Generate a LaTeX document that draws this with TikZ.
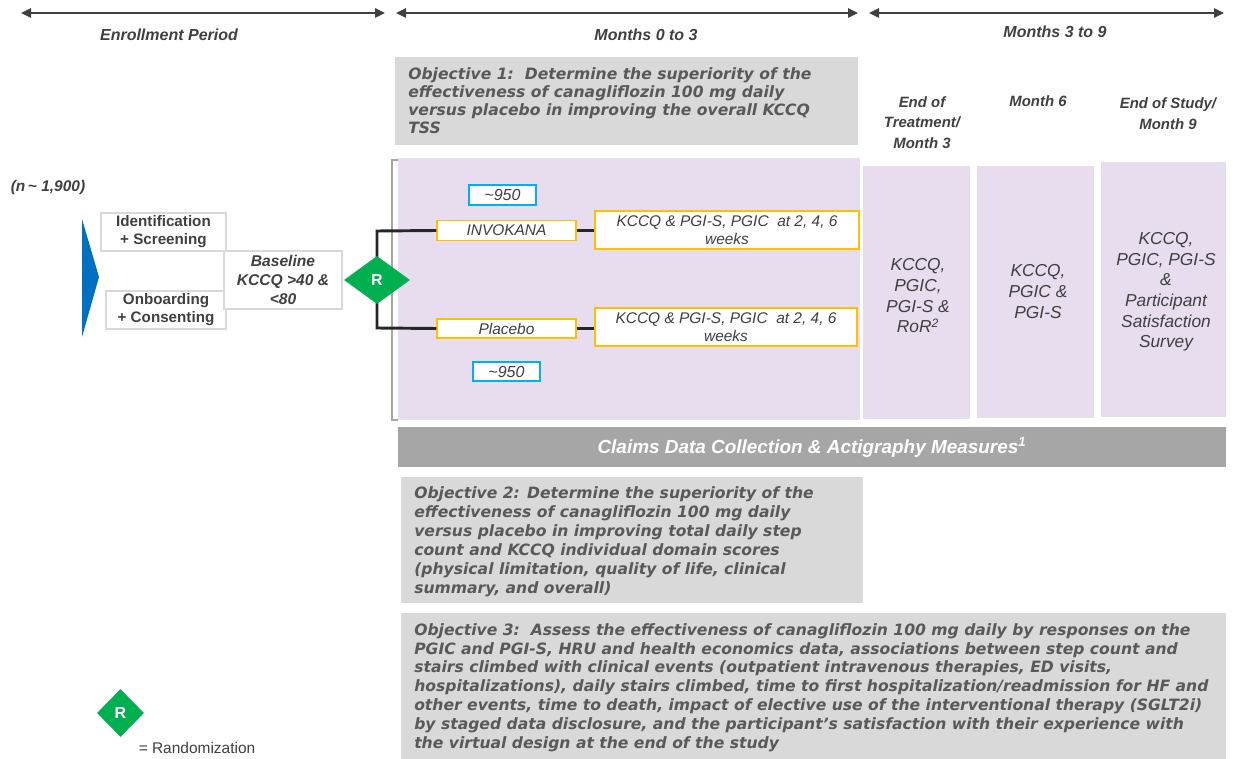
\documentclass[tikz,border=0pt]{standalone}
\usepackage{fontspec}
\setmainfont{Liberation Sans}
\newfontfamily\objfont{DejaVu Sans}
\usetikzlibrary{shapes.geometric,arrows.meta}

\definecolor{lav}{HTML}{E7DDEE}
\definecolor{objbg}{HTML}{D9D9D9}
\definecolor{objtxt}{HTML}{595959}
\definecolor{barbg}{HTML}{A6A6A6}
\definecolor{rgreen}{HTML}{00B050}
\definecolor{flowblue}{HTML}{0070C0}
\definecolor{armorange}{HTML}{FFC000}
\definecolor{ncyan}{HTML}{00B0F0}
\definecolor{edgegray}{HTML}{D9D9D9}
\definecolor{txt}{HTML}{404040}
\definecolor{linek}{HTML}{262626}

% pixel unit for node sizes
\newcommand\pxu{*0.75pt}

\begin{document}
\begin{tikzpicture}[x=0.75pt,y=-0.75pt,
  every node/.style={inner sep=0pt, text=txt},
  hdrarrow/.style={draw=txt, line width=1.1pt,
    {Triangle[length=7.5pt,width=7pt]}-{Triangle[length=7.5pt,width=7pt]}},
  hdrtext/.style={font=\fontsize{12pt}{15pt}\selectfont\bfseries\itshape, align=center},
  colhead/.style={font=\fontsize{11.2pt}{15.3pt}\selectfont\bfseries\itshape, align=center},
  graybox/.style={draw=edgegray, line width=0.9pt, fill=white, align=center,
    font=\fontsize{11.4pt}{13.5pt}\selectfont\bfseries},
  armbox/.style={draw=armorange, line width=1pt, fill=white, align=center,
    font=\fontsize{11.6pt}{13.5pt}\selectfont\itshape},
  nbox/.style={draw=ncyan, line width=1pt, fill=white, align=center,
    font=\fontsize{12pt}{13.5pt}\selectfont\itshape},
  randdia/.style={diamond, fill=rgreen, text=white, inner sep=0pt,
    font=\fontsize{12pt}{13pt}\selectfont\bfseries},
  lavpanel/.style={fill=lav},
  colText/.style={align=center, font=\fontsize{13pt}{15.5pt}\selectfont\itshape},
  objbox/.style={fill=objbg},
  objtext/.style={anchor=west, align=left, text=objtxt,
    font=\objfont\fontsize{11.7pt}{13.5pt}\selectfont\bfseries\itshape},
  armline/.style={draw=linek, line width=2.2pt},
]
\useasboundingbox (0,0) rectangle (1233,759);

% ---- timeline arrows ----
\coordinate (t1a) at (21,13);  \coordinate (t1b) at (385,13);
\coordinate (t2a) at (396,13); \coordinate (t2b) at (858,13);
\coordinate (t3a) at (869,13); \coordinate (t3b) at (1224,13);
\draw[hdrarrow] (t1a) -- (t1b);
\draw[hdrarrow] (t2a) -- (t2b);
\draw[hdrarrow] (t3a) -- (t3b);
\node[hdrtext] (enr) at (169,35) {Enrollment Period};
\node[hdrtext] (m03) at (646,35) {Months 0 to 3};
\node[hdrtext] (m39) at (1055,32) {Months 3 to 9};

% ---- objective 1 ----
\node[objbox, minimum width=463\pxu, minimum height=88\pxu] (ob1) at (626.5,101) {};
\node[objtext] (ob1t) at (408,100.5)
  {Objective 1:\ \ Determine the superiority of the\\
   effectiveness of canagliflozin 100 mg daily\\
   versus placebo in improving the overall KCCQ\\
   TSS};

% ---- column headers ----
\node[colhead] (h1) at (922,122.5) {End of\\Treatment/\\Month 3};
\node[colhead] (h2) at (1038,101) {Month 6};
\node[colhead] (h3) at (1168,113.5) {End of Study/\\Month 9};

% ---- lavender panels ----
\node[lavpanel, minimum width=462\pxu, minimum height=262\pxu] (arm) at (629,289) {};
\node[lavpanel, minimum width=107\pxu, minimum height=253\pxu] (c1) at (916.5,292.5) {};
\node[lavpanel, minimum width=117\pxu, minimum height=252\pxu] (c2) at (1035.5,292) {};
\node[lavpanel, minimum width=125\pxu, minimum height=255\pxu] (c3) at (1163.5,289.5) {};
\node[colText] (c1t) at (918,296) {KCCQ,\\PGIC,\\PGI-S \&\\RoR\textsuperscript{2}};
\node[colText] (c2t) at (1038,291.5) {KCCQ,\\PGIC \&\\PGI-S};
\node[colText] (c3t) at (1166,292) {KCCQ,\\PGIC, PGI-S\\\&\\Participant\\Satisfaction\\Survey};

% ---- bracket of the treatment period ----
\coordinate (bk1) at (398,160); \coordinate (bk2) at (392,160);
\coordinate (bk3) at (392,420); \coordinate (bk4) at (398,420);
\draw[draw=barbg, line width=1.9pt] (bk1) -- (bk2) -- (bk3) -- (bk4);

% ---- enrollment flow ----
\node[hdrtext, font=\fontsize{11.6pt}{13pt}\selectfont\bfseries\itshape] (nn) at (48,188) {(n\,\textasciitilde\ 1,900)};
\fill[flowblue] (82,219) -- (99,277) -- (82,337) -- cycle;
\node[graybox, minimum width=125\pxu, minimum height=38\pxu] (idb) at (163.5,232) {Identification\\+ Screening};
\node[graybox, minimum width=120\pxu, minimum height=38\pxu] (onb) at (166,310) {Onboarding\\+ Consenting};
\node[graybox, font=\fontsize{11.7pt}{14pt}\selectfont\bfseries\itshape,
  minimum width=118\pxu, minimum height=58\pxu] (bsl) at (283,280) {Baseline\\KCCQ >40 \&\\<80};

% ---- arms ----
\node[armbox, minimum width=139\pxu, minimum height=20\pxu] (inv) at (506.5,230.5) {INVOKANA};
\node[armbox, minimum width=139\pxu, minimum height=19\pxu] (plc) at (506.5,328.5) {Placebo};
\node[armbox, minimum width=264\pxu, minimum height=38\pxu] (kq1) at (727,230) {KCCQ \& PGI-S, PGIC\ \ at 2, 4, 6\\weeks};
\node[armbox, minimum width=262\pxu, minimum height=38\pxu] (kq2) at (726,327) {KCCQ \& PGI-S, PGIC\ \ at 2, 4, 6\\weeks};
\node[nbox, minimum width=67\pxu, minimum height=20\pxu] (n1) at (502.5,195) {\textasciitilde 950};
\node[nbox, minimum width=67\pxu, minimum height=19\pxu] (n2) at (506.5,371.5) {\textasciitilde 950};

\coordinate (jt) at (377,231);
\coordinate (jb) at (377,328);
\draw[armline] (inv.west) -- (jt) -- (jb) -- (plc.west);
\draw[armline] (inv.east) -- (inv.east -| kq1.west);
\draw[armline] (plc.east) -- (plc.east -| kq2.west);
\node[randdia, minimum width=66\pxu, minimum height=48\pxu] (rnd) at (377,280) {R};

% ---- claims bar ----
\node[fill=barbg, minimum width=828\pxu, minimum height=40\pxu, text=white,
  font=\fontsize{14.2pt}{16pt}\selectfont\bfseries\itshape] (claims) at (812,447)
  {Claims Data Collection \& Actigraphy Measures\textsuperscript{1}};

% ---- objective 2 ----
\node[objbox, minimum width=462\pxu, minimum height=126\pxu] (ob2) at (632,540) {};
\node[objtext, font=\objfont\fontsize{11.7pt}{14.25pt}\selectfont\bfseries\itshape] (ob2t) at (414,541.5)
  {Objective 2: Determine the superiority of the\\
   effectiveness of canagliflozin 100 mg daily\\
   versus placebo in improving total daily step\\
   count and KCCQ individual domain scores\\
   (physical limitation, quality of life, clinical\\
   summary, and overall)};

% ---- objective 3 ----
\node[objbox, minimum width=825\pxu, minimum height=146\pxu] (ob3) at (813.5,686) {};
\node[objtext, font=\objfont\fontsize{11.7pt}{14.1pt}\selectfont\bfseries\itshape] (ob3t) at (414,687.5)
  {Objective 3:\ \ Assess the effectiveness of canagliflozin 100 mg daily by responses on the\\
   PGIC and PGI-S, HRU and health economics data, associations between step count and\\
   stairs climbed with clinical events (outpatient intravenous therapies, ED visits,\\
   hospitalizations), daily stairs climbed, time to first hospitalization/readmission for HF and\\
   other events, time to death, impact of elective use of the interventional therapy (SGLT2i)\\
   by staged data disclosure, and the participant’s satisfaction with their experience with\\
   the virtual design at the end of the study};

% ---- legend ----
\node[randdia, minimum width=47\pxu, minimum height=48\pxu] (lgR) at (120.5,713) {R};
\node[font=\fontsize{11.6pt}{13pt}\selectfont] (lgT) at (197,748) {= Randomization};
\end{tikzpicture}
\end{document}
